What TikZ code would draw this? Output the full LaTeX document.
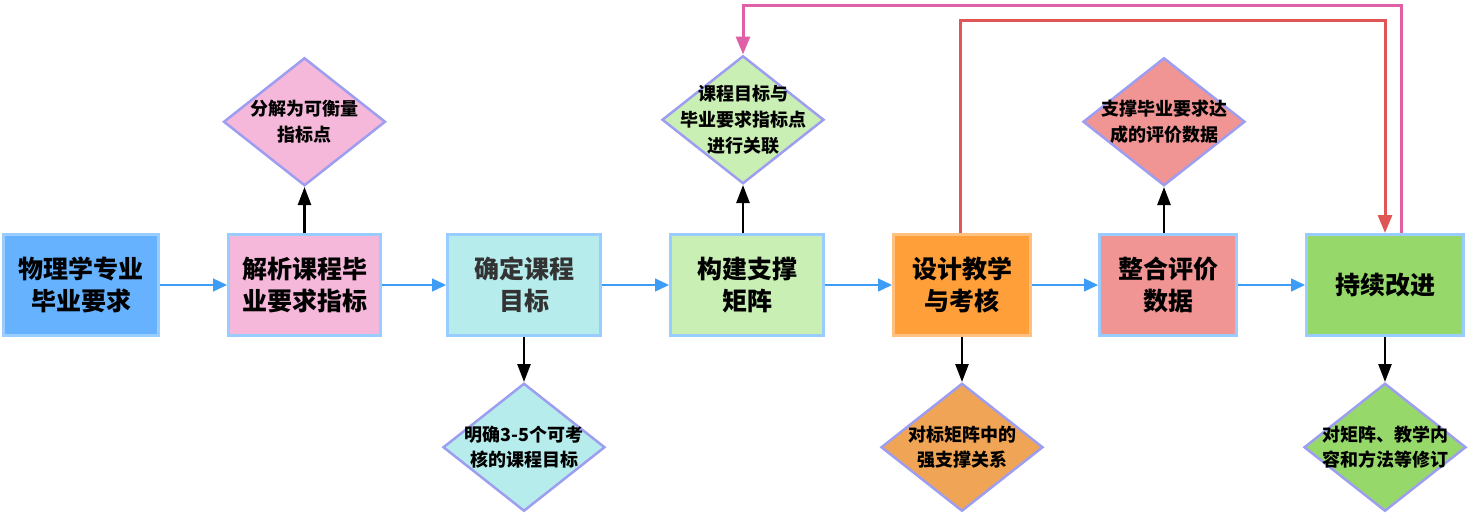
\documentclass[tikz,border=0pt]{standalone}
\usepackage{fontspec}
\setmainfont{Noto Sans CJK SC}
\usepackage{tikz}
\usetikzlibrary{arrows.meta,positioning,shapes.geometric}

\definecolor{edgeblue}{HTML}{99CCFF}
\definecolor{flowblue}{HTML}{3D9CF5}
\definecolor{lavender}{HTML}{9E9EF0}
\definecolor{cblue}{HTML}{66B2FF}
\definecolor{cpink}{HTML}{F5B8DA}
\definecolor{ccyan}{HTML}{B6ECEC}
\definecolor{clime}{HTML}{C9EFB5}
\definecolor{corange}{HTML}{FF9F3A}
\definecolor{corangeedge}{HTML}{FFC080}
\definecolor{cdorange}{HTML}{F0A455}
\definecolor{csalmon}{HTML}{F09494}
\definecolor{cgreen}{HTML}{96D96A}
\definecolor{fbpink}{HTML}{E060A8}
\definecolor{fbred}{HTML}{E05555}

\tikzset{
  stage/.style={draw=edgeblue, line width=1.5pt, rectangle, minimum height=50.5pt,
    align=center, font=\fontsize{12.5}{16}\selectfont\bfseries},
  check/.style={draw=lavender, line width=1.25pt, diamond, inner sep=0pt,
    minimum width=81pt, minimum height=64pt},
  checktext/.style={align=center, font=\fontsize{9}{12.8}\selectfont\bfseries},
  flow/.style={draw=flowblue, line width=0.75pt,
    -{Triangle[length=7pt,width=6.5pt,fill=flowblue]}},
  down/.style={line width=1.25pt, -{Triangle[length=9pt,width=6.5pt]}},
  fb/.style={line width=1.5pt},
}

\begin{document}
\begin{tikzpicture}[x=0.5pt,y=-0.5pt]
  \useasboundingbox (0,0) rectangle (1474,520);

  % main stages
  \node (req) [stage, fill=cblue, minimum width=77.5pt] at (81,285) {物理学专业\\毕业要求};
  \node (parse) [stage, fill=cpink, minimum width=76pt] at (304.5,285) {解析课程毕\\业要求指标};
  \node (goal) [stage, fill=ccyan, minimum width=76.5pt, text=black!80] at (524,285) {确定课程\\目标};
  \node (mat) [stage, fill=clime, minimum width=76.5pt] at (747,285) {构建支撑\\矩阵};
  \node (teach) [stage, fill=corange, draw=corangeedge, minimum width=68.5pt] at (962,285) {设计教学\\与考核};
  \node (eval) [stage, fill=csalmon, minimum width=68.5pt] at (1168,285) {整合评价\\数据};
  \node (imp) [stage, fill=cgreen, minimum width=78.5pt] at (1385,285) {持续改进};

  % side checks
  \node (dparse) [check, fill=cpink, above=23pt of parse,
    label={[checktext]center:分解为可衡量\\指标点}] {};
  \node (dgoal) [check, fill=ccyan, below=22.5pt of goal,
    label={[checktext]center:明确3-5个可考\\核的课程目标}] {};
  \node (dmat) [check, fill=clime, above=24pt of mat, xshift=-2pt,
    label={[checktext]center:课程目标与\\毕业要求指标点\\进行关联}] {};
  \node (dteach) [check, fill=cdorange, below=22.5pt of teach,
    label={[checktext]center:对标矩阵中的\\强支撑关系}] {};
  \node (deval) [check, fill=csalmon, above=23pt of eval, xshift=-2pt,
    label={[checktext]center:支撑毕业要求达\\成的评价数据}] {};
  \node (dimp) [check, fill=cgreen, below=22.5pt of imp,
    label={[checktext]center:对矩阵、教学内\\容和方法等修订}] {};

  \draw[flow] (req) -- (parse);
  \draw[flow] (parse) -- (goal);
  \draw[flow] (goal) -- (mat);
  \draw[flow] (mat) -- (teach);
  \draw[flow] (teach) -- (eval);
  \draw[flow] (eval) -- (imp);

  \draw[down] (parse) -- (dparse);
  \draw[down] (goal) -- (dgoal);
  \draw[down] (mat.north -| dmat) -- (dmat);
  \draw[down] (teach) -- (dteach);
  \draw[down] (eval.north -| deval) -- (deval);
  \draw[down] (imp) -- (dimp);

  % feedback loops
  \draw[fb, draw=fbpink, -{Triangle[length=9pt,width=7pt,fill=fbpink]}]
    ([xshift=8pt]imp.north) -- ++(0,-228) -| (dmat.north);
  \draw[fb, draw=fbred, -{Triangle[length=9pt,width=7pt,fill=fbred]}]
    ([xshift=-1pt]teach.north) -- ++(0,-213) -| (imp.north);
\end{tikzpicture}
\end{document}
